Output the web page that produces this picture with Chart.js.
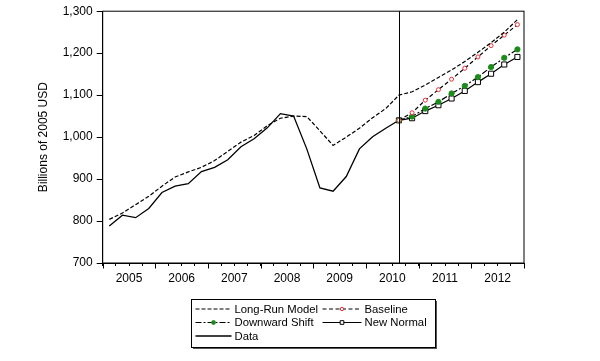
<!DOCTYPE html>
<html>
<head>
<meta charset="utf-8">
<script src="https://cdn.jsdelivr.net/npm/chart.js@4.4.1/dist/chart.umd.min.js"></script>
<style>
  html, body { margin: 0; padding: 0; background: #fff; }
  #wrap { width: 600px; height: 361px; }
</style>
</head>
<body>
<div id="wrap"><canvas id="chart" width="600" height="361"></canvas></div>
<script>
// quarterly observations, 2005Q1 .. 2012Q4
const quarters = [
  '2005Q1','2005Q2','2005Q3','2005Q4','2006Q1','2006Q2','2006Q3','2006Q4',
  '2007Q1','2007Q2','2007Q3','2007Q4','2008Q1','2008Q2','2008Q3','2008Q4',
  '2009Q1','2009Q2','2009Q3','2009Q4','2010Q1','2010Q2','2010Q3','2010Q4',
  '2011Q1','2011Q2','2011Q3','2011Q4','2012Q1','2012Q2','2012Q3','2012Q4'
];
const years = ['2005','2006','2007','2008','2009','2010','2011','2012'];
const yTicks = [700, 800, 900, 1000, 1100, 1200, 1300];

// index in quarters where the forecasts begin (vertical line)
const forecastStart = 22;

const longRun = [
  804, 819, 839, 859, 883, 905, 917, 928, 944, 966, 988, 1004,
  1027, 1045, 1050, 1049, 1015, 980, 1000, 1021, 1046, 1068, 1100, 1108,
  1124, 1142, 1160, 1180, 1202, 1225, 1250, 1280
];
const actual = [
  788, 814, 808, 830, 868, 883, 889, 918, 928, 946, 977, 996,
  1022, 1056, 1050, 972, 879, 871, 906, 972, 1001, 1021, 1040
];
// forecasts, from 2010Q3
const baseline     = [1040, 1058, 1088, 1113, 1138, 1164, 1191, 1218, 1243, 1268];
const downward     = [1040, 1049, 1068, 1084, 1104, 1122, 1143, 1167, 1189, 1209];
const newNormal    = [1040, 1045, 1062, 1076, 1092, 1110, 1131, 1151, 1173, 1191];

const FONT = "'Liberation Sans', Arial, sans-serif";

function toPoints(values, start) {
  return values.map((v, i) => ({ x: start + i, y: v }));
}

const datasets = [
  { label: 'Long-Run Model', data: toPoints(longRun, 0), borderColor: '#000', borderWidth: 1.2,
    borderDash: [4, 2], pointRadius: 0 },
  { label: 'Baseline', data: toPoints(baseline, forecastStart), borderColor: '#000', borderWidth: 1.2,
    borderDash: [4, 2.5], pointStyle: 'circle', pointRadius: 2, pointBorderWidth: 1,
    pointBorderColor: '#e8303a', pointBackgroundColor: '#fff', legendRadius: 1.7 },
  { label: 'Downward Shift', data: toPoints(downward, forecastStart), borderColor: '#000', borderWidth: 1.2,
    borderDash: [6, 2, 2, 2], pointStyle: 'circle', pointRadius: 2.6, pointBorderWidth: 1,
    pointBorderColor: '#1b8c1b', pointBackgroundColor: '#1b8c1b', legendRadius: 1.9 },
  { label: 'New Normal', data: toPoints(newNormal, forecastStart), borderColor: '#000', borderWidth: 1.2,
    pointStyle: 'rect', pointRadius: 3.6, pointBorderWidth: 1,
    pointBorderColor: '#000', pointBackgroundColor: '#fff', legendRadius: 2.6 },
  { label: 'Data', data: toPoints(actual, 0), borderColor: '#000', borderWidth: 1.3, pointRadius: 0 }
];

// frame, year ticks, forecast line and the boxed two-column legend
const extras = {
  id: 'extras',
  afterDatasetsDraw(chart) {
    const { ctx, chartArea: a, scales: { x } } = chart;
    ctx.save();
    ctx.strokeStyle = '#000';
    ctx.lineWidth = 1;
    ctx.strokeRect(a.left, a.top, a.right - a.left, a.bottom - a.top);
    const vx = Math.round(x.getPixelForValue(forecastStart)) + 0.5;
    ctx.beginPath();
    ctx.moveTo(vx, a.top);
    ctx.lineTo(vx, a.bottom);
    ctx.stroke();
    // longer marks at year boundaries
    for (let k = 0; k <= years.length; k++) {
      const px = Math.round(x.getPixelForValue(k * 4 - 0.5)) + 0.5;
      ctx.beginPath();
      ctx.moveTo(px, a.bottom);
      ctx.lineTo(px, a.bottom + 5.5);
      ctx.stroke();
    }
    ctx.restore();
  },
  afterDraw(chart) {
    const { ctx, chartArea: a } = chart;
    const w = 244, h = 48;
    const left = Math.round((a.left + a.right) / 2 - w / 2) + 0.5;
    const top = Math.round(a.bottom + 36) + 0.5;
    ctx.save();
    ctx.fillStyle = '#555';
    ctx.fillRect(left + 1.5, top + 1.5, w, h);
    ctx.fillStyle = '#fff';
    ctx.fillRect(left, top, w, h);
    ctx.strokeStyle = '#000';
    ctx.lineWidth = 1;
    ctx.strokeRect(left, top, w, h);

    const cols = [{ x0: 4, x1: 40, tx: 43 }, { x0: 131, x1: 170, tx: 173 }];
    const rows = [9.5, 23, 36.5];
    ctx.font = '11.3px ' + FONT;
    ctx.textBaseline = 'middle';
    chart.data.datasets.forEach((ds, i) => {
      const c = cols[i % 2], y = top + rows[Math.floor(i / 2)];
      ctx.strokeStyle = ds.borderColor;
      ctx.lineWidth = ds.borderWidth;
      ctx.setLineDash(ds.borderDash || []);
      ctx.beginPath();
      ctx.moveTo(left + c.x0, y);
      ctx.lineTo(left + c.x1, y);
      ctx.stroke();
      ctx.setLineDash([]);
      if (ds.pointRadius) {
        ctx.strokeStyle = ds.pointBorderColor;
        ctx.fillStyle = ds.pointBackgroundColor;
        ctx.lineWidth = ds.pointBorderWidth;
        Chart.helpers.drawPoint(ctx, { pointStyle: ds.pointStyle, radius: ds.legendRadius, rotation: 0,
          borderWidth: ds.pointBorderWidth }, left + (c.x0 + c.x1) / 2, y);
      }
      ctx.fillStyle = '#000';
      ctx.fillText(ds.label, left + c.tx, y + 0.5);
    });
    ctx.restore();
  }
};

new Chart(document.getElementById('chart'), {
  type: 'line',
  data: { datasets },
  plugins: [extras],
  options: {
    responsive: false,
    animation: false,
    devicePixelRatio: 1,
    layout: { padding: { left: 32, top: 9, right: 76, bottom: 70 } },
    elements: { line: { tension: 0, fill: false } },
    plugins: { legend: { display: false }, tooltip: { enabled: false } },
    scales: {
      x: {
        type: 'linear',
        min: -0.5,
        max: quarters.length - 0.5,
        afterBuildTicks(scale) {
          scale.ticks = quarters.concat(['']).map((q, i) => ({ value: i - 0.5 }));
        },
        afterFit(scale) { scale.height = 28; },
        border: { color: '#000', width: 1 },
        grid: { drawOnChartArea: false, drawTicks: true, tickLength: 3, tickColor: '#000' },
        ticks: {
          autoSkip: false, maxRotation: 0, padding: 5, labelOffset: 26.3,
          color: '#000', font: { family: FONT, size: 12 },
          callback(value) {
            const k = (value + 0.5) / 4;
            return Number.isInteger(k) && k < years.length ? years[k] : '';
          }
        }
      },
      y: {
        min: yTicks[0],
        max: yTicks[yTicks.length - 1],
        afterBuildTicks(scale) { scale.ticks = yTicks.map(v => ({ value: v })); },
        afterFit(scale) { scale.width = 70.7; },
        border: { color: '#000', width: 1 },
        grid: { drawOnChartArea: false, drawTicks: true, tickLength: 6, tickColor: '#000' },
        title: { display: true, text: 'Billions of 2005 USD', color: '#000', font: { family: FONT, size: 12 } },
        ticks: {
          padding: 4, color: '#000', font: { family: FONT, size: 12 },
          callback: v => v.toLocaleString('en-US')
        }
      }
    }
  }
});
</script>
</body>
</html>
